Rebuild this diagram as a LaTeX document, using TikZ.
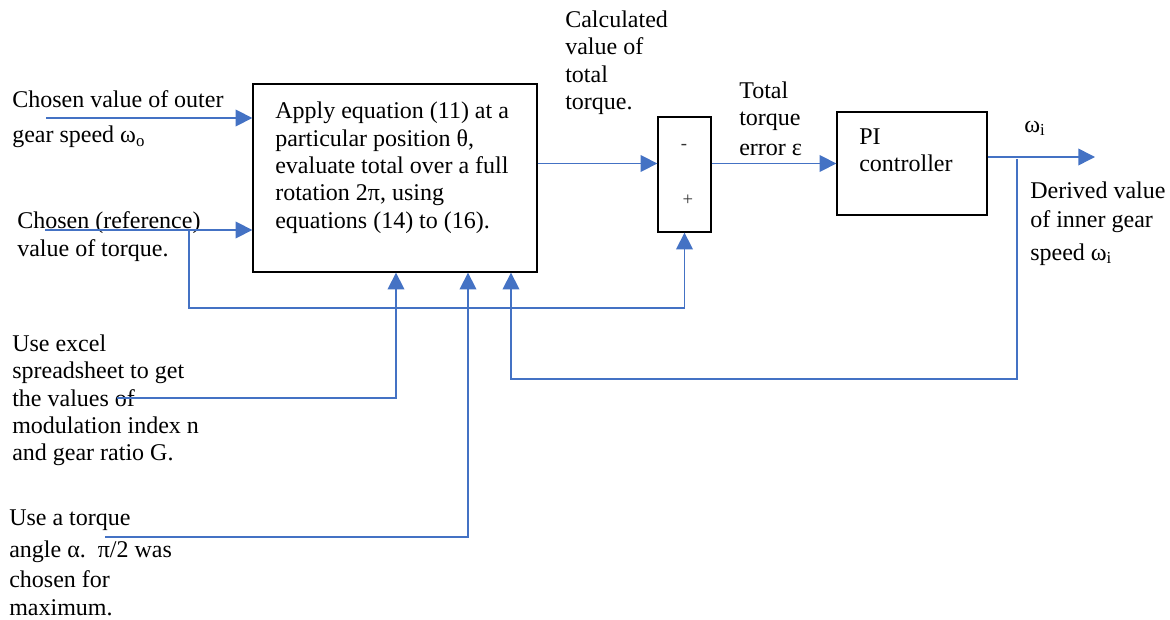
\documentclass[tikz,border=0pt]{standalone}
\usepackage{fontspec}
\setmainfont{Liberation Serif}
\usetikzlibrary{arrows.meta,calc}
\definecolor{lineblue}{HTML}{4472C4}
\newcommand\diagfont{\fontsize{18pt}{20.5pt}\selectfont}
\tikzset{
  blk/.style={draw=black, line width=1pt, rectangle, inner sep=0pt},
  lbl/.style={inner sep=0pt, anchor=north west, align=left, font=\diagfont},
  sig/.style={inner sep=0pt, font=\fontsize{14pt}{16pt}\selectfont, text=black!80},
  conn/.style={draw=lineblue, line width=1.1pt},
  arr/.style={conn, -{Triangle[length=12.5pt,width=12.5pt]}, shorten >=0pt},
}
\begin{document}
\begin{tikzpicture}[x=0.75pt,y=-0.75pt]
\useasboundingbox (0,0) rectangle (1170,620);
% blocks
\node[blk, minimum width=213pt, minimum height=141pt] (main) at (395,178) {};
\node[blk, minimum width=39.75pt, minimum height=86.25pt] (sum) at (684.5,174.5) {};
\node[blk, minimum width=112.5pt, minimum height=77.25pt] (pi) at (912,163.5) {};
% block texts
\node[lbl] (maintxt) at (275,101.6) {Apply equation (11) at a\\[0.3pt]particular position θ,\\evaluate total over a full\\rotation 2π, using\\equations (14) to (16).};
\node[sig] (minus) at (684,147) {-};
\node[sig] (plus) at (688,200) {+};
\node[lbl] (pitxt) at (859,128.6) {PI\\controller};
% labels
\node[lbl] (l1) at (12,90.6) {Chosen value of outer\\[5.8pt]gear speed ω\textsubscript{o}};
\node[lbl] (l2) at (17,211.6) {Chosen (reference)\\value of torque.};
\node[lbl] (l3) at (12,334.6) {Use excel\\spreadsheet to get\\the values of\\modulation index n\\and gear ratio G.};
\node[lbl] (l4) at (9,509.6) {Use a torque\\[3.5pt]angle α.\ \ π/2 was\\[2pt]chosen for\\[0.5pt]maximum.};
\node[lbl] (l5) at (565,10.6) {Calculated\\value of\\total\\torque.};
\node[lbl] (l6) at (739,81.6) {Total\\torque\\[2pt]error ε};
\node[lbl] (l7) at (1024,120.6) {ω\textsubscript{i}};
\node[lbl] (l8) at (1030,181.6) {Derived value\\[1.2pt]of inner gear\\[4pt]speed ω\textsubscript{i}};
% coordinates
\coordinate (in1) at (46,118);
\coordinate (in2) at (45,230);
\coordinate (tap) at (189,230);
\coordinate (tapd) at (189,308);
\coordinate (exs) at (117,398);
\coordinate (exc) at (396,398);
\coordinate (tas) at (105,537);
\coordinate (tac) at (468,537);
\coordinate (fbtop) at (1017,159);
\coordinate (fbc) at (1017,379);
\coordinate (fbl) at (511,379);
\coordinate (out) at (1095,157);
% connectors
\draw[arr] (in1) -- (in1 -| main.west);
\draw[arr] (in2) -- (in2 -| main.west);
\draw[arr] (tap) -- (tapd) -- (tapd -| sum.south) -- (sum.south);
\draw[arr] (exs) -- (exc) -- (exc |- main.south);
\draw[arr] (tas) -- (tac) -- (tac |- main.south);
\draw[arr] (fbtop) -- (fbc) -- (fbl) -- (fbl |- main.south);
\draw[arr] (main.east |- pi.west) -- (sum.west |- pi.west);
\draw[arr] (sum.east |- pi.west) -- (pi.west);
\draw[arr] (pi.east |- out) -- (out);
\end{tikzpicture}
\end{document}
